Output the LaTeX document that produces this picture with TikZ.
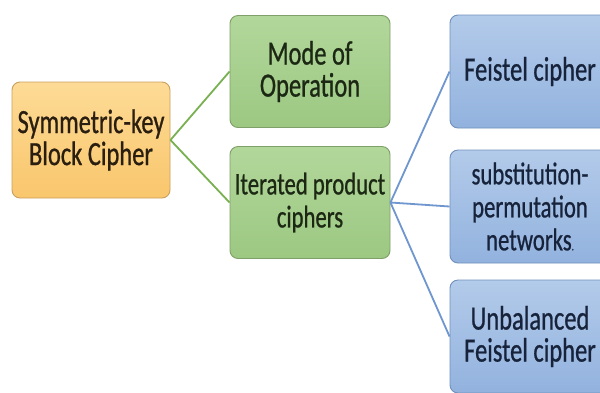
\documentclass[tikz,border=0pt]{standalone}
\usepackage{fontspec}
\setmainfont{Carlito}[FakeStretch=0.72, FakeBold=0.7]
\usetikzlibrary{shadings}

\definecolor{orgtop}{HTML}{FDDB96}
\definecolor{orgbot}{HTML}{F9C66C}
\definecolor{orgline}{HTML}{C9A060}
\definecolor{grntop}{HTML}{B2D79B}
\definecolor{grnbot}{HTML}{9CC882}
\definecolor{grnline}{HTML}{7FA068}
\definecolor{blutop}{HTML}{B3CBEA}
\definecolor{blubot}{HTML}{92B2DE}
\definecolor{bluline}{HTML}{7190BC}
\definecolor{grnlink}{HTML}{78B052}
\definecolor{blulink}{HTML}{6F96CF}
\definecolor{orgtext}{HTML}{2A1E10}
\definecolor{grntext}{HTML}{1C2814}
\definecolor{blutext}{HTML}{17233A}

\tikzset{
  card/.style={rounded corners=8pt, line width=0.9pt, align=center,
    inner sep=2pt},
  rootbox/.style={card, draw=orgline, top color=orgtop, bottom color=orgbot,
    text=orgtext, minimum width=158pt, minimum height=116pt},
  midbox/.style={card, draw=grnline, top color=grntop, bottom color=grnbot,
    text=grntext, minimum width=160pt, minimum height=112pt},
  leafbox/.style={card, draw=bluline, top color=blutop, bottom color=blubot,
    text=blutext, minimum width=160pt, minimum height=113pt},
  big/.style={font=\fontsize{34}{32}\selectfont},
  mid/.style={font=\fontsize{31.5}{33}\selectfont},
  glink/.style={draw=grnlink, line width=1.8pt},
  blink/.style={draw=blulink, line width=1.8pt}
}

\begin{document}
\begin{tikzpicture}[x=1pt, y=-1pt]
  \useasboundingbox (0,0) rectangle (600,392);
  \fill[white] (0,0) rectangle (600,392);
  \clip (0,0) rectangle (600,392);

  % root of the tree
  \node[rootbox, big] (root) at (91,140) {Symmetric-key\\Block Cipher};

  % second level
  \node[midbox, big] (mode) at (310,71.5) {Mode of\\Operation};
  \node[midbox, mid] (iter) at (310,202.5) {Iterated product\\ciphers};

  % third level
  \node[leafbox, big] (feis) at (530,71.5) {\raisebox{-4pt}{Feistel cipher}};
  \node[leafbox, mid] (spn) at (530,206.5) {substitution-\\permutation\\networks{\fontsize{12}{12}\selectfont.}};
  \node[leafbox, big] (unbal) at (530,336.5) {Unbalanced\\Feistel cipher};

  % connectors
  \draw[glink] (root.east) -- (mode.west);
  \draw[glink] (root.east) -- (iter.west);
  \draw[blink] (iter.east) -- (feis.west);
  \draw[blink] (iter.east) -- (spn.west);
  \draw[blink] (iter.east) -- (unbal.west);
\end{tikzpicture}
\end{document}
